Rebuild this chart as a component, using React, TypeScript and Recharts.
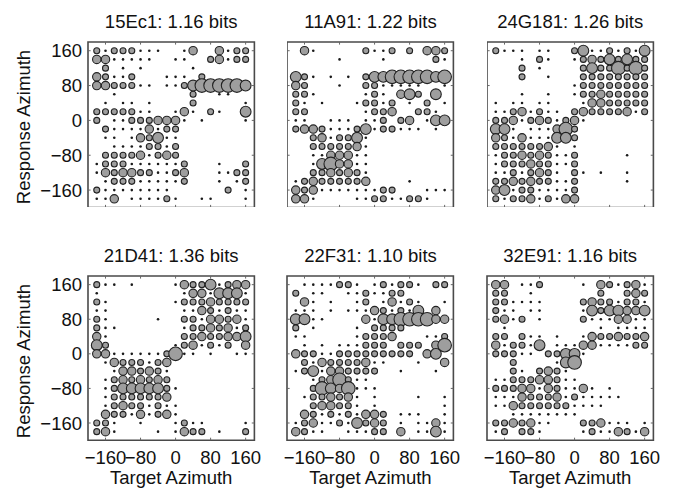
import React from 'react';
import { ScatterChart, Scatter, XAxis, YAxis, ReferenceLine, ReferenceArea } from 'recharts';

// grid of target / response azimuths (deg)
const targetAz = [-180, -160, -140, -120, -100, -80, -60, -40, -20, 0, 20, 40, 60, 80, 100, 120, 140, 160];
const responseAz = [160, 140, 120, 100, 80, 60, 40, 20, 0, -20, -40, -60, -80, -100, -120, -140, -160, -180];
const azTicks = [-160, -80, 0, 80, 160];

// each row = one response azimuth (top to bottom), each char = bubble size class 0..5 per target azimuth
const cell15Ec1 = [
  '212221110013003122',
  '331111100110023122',
  '020101000001000000',
  '321120001110200000',
  '332221101124555554',
  '001000000002001100',
  '010110100002000001',
  '222221100131021004',
  '201122233310100001',
  '021111312200000000',
  '011013241100000000',
  '001111221200000000',
  '022223123200000000',
  '122211111120001002',
  '132332211230001122',
  '012221111120001012',
  '211111111000000201',
  '113011112100110001',
];

const cell11A91 = [
  '031000002112020332',
  '000001000010000021',
  '000000000000000000',
  '421010102445555545',
  '320001002211111001',
  '221000001210342040',
  '210100012212010201',
  '220000001223002210',
  '110011101120230144',
  '233211124122111010',
  '002312241000000000',
  '002222231000000000',
  '001133311000000000',
  '001453311000000000',
  '002232321000000000',
  '123222223000010000',
  '323111111122000111',
  '331000011221122100',
];

const cell24G181 = [
  '211101100241121214',
  '000102100123242422',
  '000201000024225252',
  '000200100022222222',
  '000000000122222222',
  '000100100122322222',
  '101101100013322222',
  '112312110232222312',
  '223123212310000000',
  '441011135200000000',
  '321311144200000000',
  '222222310100000000',
  '122323211200000100',
  '122232211200000000',
  '112123210210100100',
  '223232211200000100',
  '341221111200000000',
  '212231213300000000',
];

const cell21D41 = [
  '211010000132241233',
  '100000000013314441',
  '210000000122232222',
  '110000000011321211',
  '210000010022133231',
  '211000000012232312',
  '310000000022322334',
  '420000000123121203',
  '331111112511010011',
  '013222123000000000',
  '001332321000000000',
  '012323232000000000',
  '012444442100000000',
  '012222223000000000',
  '012322121100000000',
  '032213123100000000',
  '221001000121100001',
  '231000010132201002',
];

const cell22F31 = [
  '011112210121221022',
  '201100112112200000',
  '031010012013121001',
  '111010111321214030',
  '441100003144555533',
  '201000010222200000',
  '110000012223000112',
  '010101112220222035',
  '322112222222220340',
  '021322223110001003',
  '124133222200100010',
  '001235211000000000',
  '002543511100000000',
  '012232310100001001',
  '002332210100000001',
  '032121213320111001',
  '123112142320101131',
  '321100111220301141',
];

const cell32E91 = [
  '330112000010321231',
  '220010000000200232',
  '221111000023221221',
  '211011000014244334',
  '231201000021113311',
  '010000000000101111',
  '220211010013223223',
  '312214011133111122',
  '222110224410000000',
  '002000014500000000',
  '002102321000000000',
  '112223321100000000',
  '222331321131010000',
  '111322231211111000',
  '113222222111100000',
  '001111111100000000',
  '223231100022311101',
  '120221000012113213',
];

const titles = ['15Ec1: 1.16 bits', '11A91: 1.22 bits', '24G181: 1.26 bits', '21D41: 1.36 bits', '22F31: 1.10 bits', '32E91: 1.16 bits'];
const cells = [cell15Ec1, cell11A91, cell24G181, cell21D41, cell22F31, cell32E91];

const FONT = '"Liberation Sans", Arial, Helvetica, sans-serif';
const FS = 18.5;
const FRAME_W = 166.4;
const LEFTS = [88, 287.3, 487];
const TOPS = [41.5, 275.7];
const HEIGHTS = [165.5, 164.3];
const YLABEL_CY = [127, 361];
const RADII = [0, 1.3, 3.0, 4.2, 5.4, 6.8];

const toPoints = (rows: string[]) => {
  const pts: { x: number; y: number; z: number }[] = [];
  rows.forEach((row, i) => {
    row.split('').forEach((c, j) => {
      const z = Number(c);
      if (z > 0) pts.push({ x: targetAz[j], y: responseAz[i], z });
    });
  });
  return pts;
};

const Bubble = (props: any) => {
  const { cx, cy, payload } = props;
  const z = payload.z;
  if (z === 1) return <circle cx={cx} cy={cy} r={RADII[1]} fill="#1a1a1a" />;
  return <circle cx={cx} cy={cy} r={RADII[z]} fill="#9e9e9e" stroke="#222" strokeWidth={1.1} />;
};

const fmt = (v: number) => (v < 0 ? `\u2212${-v}` : `${v}`);
const tickStyle = { fontSize: FS, fill: '#111', fontFamily: FONT };

const textBase: React.CSSProperties = {
  position: 'absolute',
  lineHeight: '20px',
  textAlign: 'center',
  fontFamily: FONT,
  fontSize: FS,
  color: '#111',
  whiteSpace: 'nowrap',
};

interface PanelProps {
  idx: number;
}

const Panel: React.FC<PanelProps> = ({ idx }) => {
  const col = idx % 3;
  const row = Math.floor(idx / 3);
  const showY = col === 0;
  const showX = row === 1;
  const yW = showY ? 60 : 0;
  const padL = showY ? 0 : showX ? 30 : 0;
  const padR = showX ? 24 : 3;
  const xH = showX ? 34 : 0;
  const h = HEIGHTS[row];
  const left = LEFTS[col];
  const top = TOPS[row];
  const data = toPoints(cells[idx]);

  return (
    <>
      <div style={{ ...textBase, left, top: top - 30, width: FRAME_W }}>{titles[idx]}</div>
      <div style={{ position: 'absolute', left: left - yW - padL, top: top - 3 }}>
        <ScatterChart
          width={padL + yW + FRAME_W + padR}
          height={h + xH + 3}
          margin={{ top: 3, right: padR, bottom: 0, left: padL }}
        >
          <XAxis
            type="number"
            dataKey="x"
            domain={[-200, 180]}
            ticks={azTicks}
            interval={0}
            allowDataOverflow
            axisLine={false}
            tickLine={false}
            tickSize={6}
            tickMargin={5}
            tickFormatter={fmt}
            tick={tickStyle}
            height={xH}
            hide={!showX}
          />
          <YAxis
            type="number"
            dataKey="y"
            domain={[-200, 180]}
            ticks={azTicks}
            interval={0}
            allowDataOverflow
            axisLine={false}
            tickLine={false}
            tickSize={6}
            tickMargin={0}
            tickFormatter={fmt}
            tick={tickStyle}
            width={yW}
            hide={!showY}
          />
          <Scatter data={data} shape={Bubble} isAnimationActive={false} />
          {azTicks.map((t) => (
            <ReferenceLine key={`b${t}`} segment={[{ x: t, y: -200 }, { x: t, y: -194 }]} stroke="#666" ifOverflow="visible" />
          ))}
          {azTicks.map((t) => (
            <ReferenceLine key={`t${t}`} segment={[{ x: t, y: 180 }, { x: t, y: 174 }]} stroke="#666" ifOverflow="visible" />
          ))}
          {azTicks.map((t) => (
            <ReferenceLine key={`l${t}`} segment={[{ x: -200, y: t }, { x: -194, y: t }]} stroke="#666" ifOverflow="visible" />
          ))}
          {azTicks.map((t) => (
            <ReferenceLine key={`r${t}`} segment={[{ x: 180, y: t }, { x: 174, y: t }]} stroke="#666" ifOverflow="visible" />
          ))}
          <ReferenceArea x1={-200} x2={180} y1={-200} y2={180} fill="none" stroke="#4a4a4a" strokeWidth={1.6} ifOverflow="visible" />
        </ScatterChart>
      </div>
      {showY && (
        <div
          style={{
            ...textBase,
            left: 23.5 - 100,
            top: YLABEL_CY[row] - 10,
            width: 200,
            height: 20,
            transform: 'rotate(-90deg)',
          }}
        >
          Response Azimuth
        </div>
      )}
      {showX && (
        <div style={{ ...textBase, left: left - 20, top: 468, width: FRAME_W + 40 }}>Target Azimuth</div>
      )}
    </>
  );
};

const App: React.FC = () => (
  <div style={{ position: 'absolute', left: 0, top: 0, width: 674, height: 489, background: '#fff', overflow: 'hidden' }}>
    {[0, 1, 2, 3, 4, 5].map((i) => (
      <Panel key={i} idx={i} />
    ))}
  </div>
);

export default App;
